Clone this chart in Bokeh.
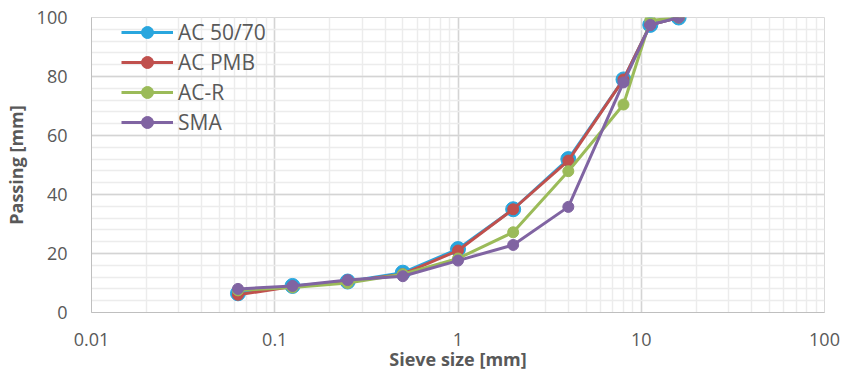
from bokeh.plotting import figure
from bokeh.models import Range1d, LogTicker, SingleIntervalTicker, CustomJSTickFormatter, Legend
from bokeh.embed import file_html
from bokeh.resources import INLINE

sieve = [0.063, 0.125, 0.25, 0.5, 1, 2, 4, 8, 11.2, 16]
ac5070 = [6.5, 9.0, 10.5, 13.5, 21.5, 35.0, 52.0, 79.0, 97.5, 100.0]
acpmb = [6.0, 8.8, 10.5, 13.0, 21.0, 35.0, 51.5, 79.0, 97.5, 100.0]
acr = [7.5, 8.5, 10.0, 13.0, 18.3, 27.2, 47.9, 70.5, 99.0, 100.0]
sma = [8.0, 9.0, 11.0, 12.3, 17.6, 22.9, 35.8, 78.0, 97.5, 100.0]

series = [
    ("AC 50/70", ac5070, "#29A6DE", 15),
    ("AC PMB", acpmb, "#C0504D", 11),
    ("AC-R", acr, "#9BBB59", 11),
    ("SMA", sma, "#8064A2", 11),
]

FONT = "Open Sans"
GRAY = "#595959"

p = figure(width=841, height=373, x_axis_type="log",
           x_range=Range1d(0.01, 100), y_range=Range1d(0, 100),
           output_backend="svg", toolbar_location=None,
           min_border_left=90, min_border_right=17, min_border_top=17, min_border_bottom=61)

p.outline_line_color = "#D9D9D9"
p.background_fill_color = "white"
p.border_fill_color = "white"

p.xaxis.ticker = LogTicker(num_minor_ticks=10)
p.yaxis.ticker = SingleIntervalTicker(interval=20, num_minor_ticks=5)
p.xgrid.ticker = p.xaxis.ticker
p.ygrid.ticker = p.yaxis.ticker
p.xaxis.formatter = CustomJSTickFormatter(code="return Number(tick.toPrecision(6)).toString();")

for ax in (p.xaxis, p.yaxis):
    ax.major_tick_line_color = None
    ax.minor_tick_line_color = None
    ax.axis_line_color = "#BFBFBF"
    ax.major_label_text_font = FONT
    ax.major_label_text_font_size = "18px"
    ax.major_label_text_color = GRAY
    ax.axis_label_text_font = FONT
    ax.axis_label_text_font_size = "18px"
    ax.axis_label_text_font_style = "bold"
    ax.axis_label_text_color = GRAY

p.xaxis.axis_label = "Sieve size [mm]"
p.yaxis.axis_label = "Passing [mm]"
p.xaxis.major_label_standoff = 14
p.yaxis.major_label_standoff = 18
p.xaxis.axis_label_standoff = -2
p.yaxis.axis_label_standoff = 6

for g in (p.xgrid, p.ygrid):
    g.grid_line_color = "#D4D4D4"
    g.grid_line_width = 1.5
    g.minor_grid_line_color = "#ECECEC"
    g.minor_grid_line_width = 1.5

items = []
for name, vals, color, size in series:
    r1 = p.line(sieve, vals, line_color=color, line_width=3)
    r2 = p.scatter(sieve, vals, size=size, fill_color=color, line_color=color)
    items.append((name, [r1, r2]))

legend = Legend(items=items, location=(30, 175), orientation="vertical")
legend.border_line_color = None
legend.background_fill_alpha = 0
legend.padding = 0
legend.margin = 0
legend.spacing = 0
legend.glyph_width = 52
legend.glyph_height = 30
legend.label_height = 30
legend.label_standoff = 5
legend.label_text_font = FONT
legend.label_text_font_size = "21px"
legend.label_text_color = GRAY
p.add_layout(legend)

open("out.html", "w").write(file_html(p, INLINE))
